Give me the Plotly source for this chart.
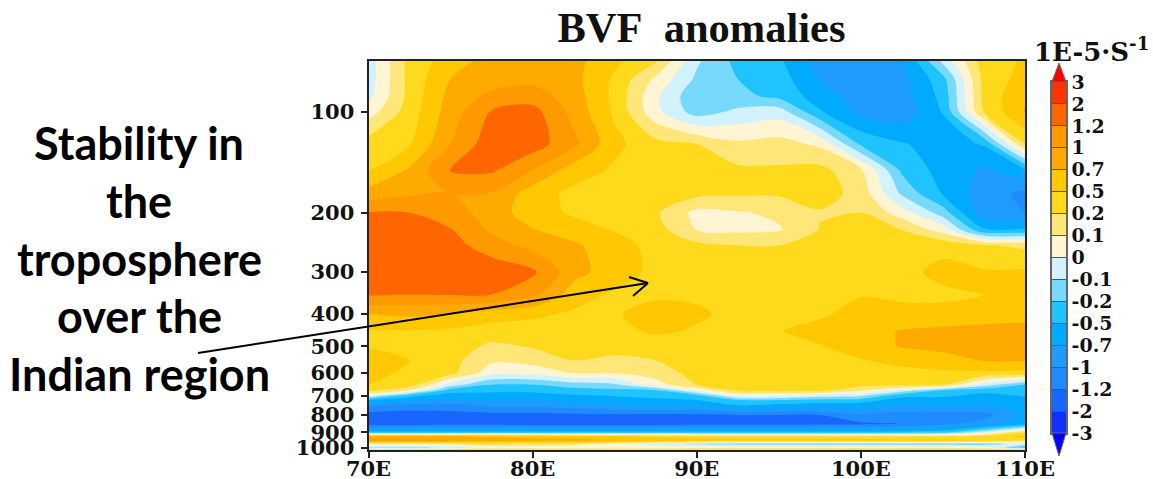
import numpy as np
import plotly.graph_objects as go

longitudes = [70, 72.5, 75, 77.5, 80, 82.5, 85, 87.5, 90, 92.5, 95, 97.5, 100, 102.5, 105, 107.5, 110]
pressures = [70, 80, 90, 100, 125, 150, 175, 200, 225, 250, 300, 350, 400, 450, 500, 550, 600, 650, 675, 700, 725,
             750, 800, 850, 900, 925, 950, 975, 1000, 1016]
levels = [-3, -2, -1.2, -1, -0.7, -0.5, -0.2, -0.1, 0, 0.1, 0.2, 0.5, 0.7, 1, 1.2, 2, 3]
level_labels = ["-3", "-2", "-1.2", "-1", "-0.7", "-0.5", "-0.2", "-0.1", "0", "0.1", "0.2", "0.5", "0.7", "1", "1.2", "2", "3"]
band_colors = ["#0000ff", "#1430ff", "#1966ff", "#1e8cff", "#1e9bff", "#00aaff", "#1ec3ff", "#78d9ff", "#d2f2ff",
               "#fff5d2", "#ffe678", "#ffda1c", "#ffc800", "#ffaa00", "#ff9900", "#ff6600", "#ff3300", "#ff0000"]
x_ticks = [70, 80, 90, 100, 110]
x_labels = ["70E", "80E", "90E", "100E", "110E"]
y_ticks = [100, 200, 300, 400, 500, 600, 700, 800, 900, 1000]
text_lines = ["Stability in", "the", "troposphere", "over the", "Indian region"]

# BVF anomaly per longitude (one list per longitude, values ordered as in `pressures`)
bvf_by_lon = [
 [-.05,-.05,-.03,.05,.35,.5,.8,1.25,1.45,1.6,1.7,1.3,.7,.48,.48,.6,.6,.5,.3,0,-.55,-1.0,-1.6,-1.6,-.4,.7,1.05,.1,-.12,.3],
 [.3,.3,.3,.35,.48,.75,.95,1.2,1.45,1.6,1.7,1.2,.75,.48,.4,.5,.4,.35,.1,-.4,-.65,-1.1,-1.6,-1.6,-.4,.7,1.05,.1,-.12,.3],
 [.6,.7,.8,.85,1.0,1.22,1.0,1.1,1.25,1.5,1.6,1.25,.7,.45,.35,.3,.3,-.05,-.35,-.6,-.78,-1.1,-1.5,-1.5,-.4,.7,1.0,.12,-.08,.3],
 [.8,.85,1.05,1.25,1.7,1.3,.98,.85,.95,1.1,1.7,1.2,.6,.35,.18,.12,.03,-.22,-.42,-.58,-.72,-.95,-1.5,-1.5,-.4,.65,.9,.15,.05,.3],
 [.8,.9,1.1,1.5,1.6,.98,.6,.6,.72,.9,1.35,1.05,.55,.33,.22,.14,.03,-.22,-.42,-.58,-.72,-.95,-1.5,-1.6,-.4,.6,.85,.15,.05,.3],
 [.8,.8,.85,.9,1.05,.6,.42,.45,.6,.75,.8,.6,.45,.3,.28,.2,.1,-.15,-.33,-.52,-.65,-.85,-1.4,-1.6,-.4,.55,.85,.12,.05,.3],
 [.55,.45,.42,.45,.55,.45,.35,.4,.48,.58,.6,.45,.47,.42,.3,.18,.1,-.12,-.27,-.48,-.6,-.75,-1.4,-1.6,-.4,.5,.75,.05,.05,.3],
 [.28,.08,.02,.03,.3,.35,.38,.25,.33,.4,.42,.45,.58,.53,.35,.2,.15,.05,-.2,-.42,-.55,-.68,-1.4,-1.6,-.4,.4,.7,-.05,.05,.3],
 [-.08,-.12,-.18,-.15,.2,.3,.3,.07,.1,.28,.4,.45,.53,.47,.4,.38,.3,.2,.02,-.3,-.52,-.68,-1.35,-1.5,-.4,.3,.65,-.12,.08,.3],
 [-.3,-.2,-.17,-.08,.12,.27,.25,.09,.08,.2,.35,.4,.42,.43,.43,.42,.4,.33,.28,.02,-.3,-.52,-1.25,-1.5,-.4,.25,.6,-.15,.1,.3],
 [-.45,-.35,-.28,-.05,.14,.25,.25,.12,.09,.2,.3,.37,.4,.48,.4,.4,.4,.35,.28,.02,-.3,-.55,-1.25,-1.5,-.4,.25,.6,-.15,.1,.3],
 [-.85,-.72,-.6,-.47,.08,.3,.35,.19,.22,.25,.33,.36,.45,.58,.48,.42,.42,.38,.3,-.05,-.4,-.58,-1.2,-1.35,-.4,.2,.6,-.15,.1,.3],
 [-.9,-.88,-.85,-.78,-.25,.12,.16,.2,.25,.3,.35,.48,.58,.62,.6,.48,.4,.3,.12,-.08,-.4,-.6,-1.05,-1.35,-.4,.2,.6,-.15,.1,.35],
 [-.72,-.8,-.85,-.9,-.47,-.25,-.12,.05,.2,.3,.42,.47,.53,.72,.72,.55,.42,.25,-.03,-.42,-.6,-.75,-1.1,-1.25,-.35,.2,.55,-.15,.1,.35],
 [-.06,-.3,-.4,-.48,-.6,-.58,-.52,-.15,.05,.42,.55,.45,.55,.78,.8,.6,.45,.2,-.2,-.45,-.58,-.68,-1.1,-1.05,-.3,.2,.55,-.15,.1,.35],
 [.35,.3,.28,.22,-.47,-.75,-.85,-.9,-.45,.22,.52,.5,.6,.8,.85,.72,.45,-.05,-.4,-.55,-.62,-.72,-1.08,-.85,-.05,.3,.5,-.15,.05,.35],
 [.52,.58,.68,.72,.2,-.55,-1.05,-1.0,-.45,.18,.53,.56,.6,.85,.85,.72,.4,-.25,-.38,-.48,-.55,-.6,-.65,-.55,.2,.55,.25,-.05,-.3,.3],
]

z_values = np.array(bvf_by_lon).T
band_index = np.interp(z_values, levels, np.arange(len(levels)))

def stepped(colors):
    n = len(colors)
    out = []
    for i, c in enumerate(colors):
        out += [[i / n, c], [(i + 1) / n, c]]
    return out

W, H = 1153, 479
L, R, T, B = 368.5, 1025, 60.5, 450
def px(x): return x / W
def py(y): return (H - y) / H

serif = "DejaVu Serif"
fig = go.Figure(go.Contour(
    x=longitudes, y=pressures, z=band_index,
    zmin=-1, zmax=17, colorscale=stepped(band_colors), showscale=False,
    autocontour=False,
    contours=dict(start=0, end=16, size=1, coloring="fill", showlines=False),
    line=dict(width=0, smoothing=0.9),
    hoverinfo="skip",
))

# colour bar: one cell for each interval between levels, on its own axis
bar_steps = list(range(len(levels)))
fig.add_trace(go.Heatmap(
    x=[0, 1], y=bar_steps, z=[[i] for i in range(len(levels) - 1)],
    zmin=-0.5, zmax=len(levels) - 1.5, colorscale=stepped(band_colors[1:-1]), showscale=False,
    xaxis="x2", yaxis="y2", hoverinfo="skip",
))

for i, line in enumerate(text_lines):
    fig.add_annotation(text=line, x=px(139), y=py(143 + 57.8 * i), xref="paper", yref="paper",
                       showarrow=False, xanchor="center", yanchor="middle",
                       font=dict(family="Lato", size=45, color="black", weight=700))
fig.add_annotation(text="1E-5·S<sup>-1</sup>", x=px(1091), y=py(50), xref="paper", yref="paper",
                   showarrow=False, xanchor="center", yanchor="middle",
                   font=dict(family=serif, size=26, color="#111111", weight=700))

shapes = []
for (x0, y0, x1, y1) in [(198, 353, 648, 283), (629, 277, 648, 283), (633, 296, 648, 283)]:
    shapes.append(dict(type="line", xref="paper", yref="paper", x0=px(x0), y0=py(y0), x1=px(x1), y1=py(y1),
                       line=dict(color="black", width=2)))
shapes.append(dict(type="path", xref="paper", yref="paper",
                   path=f"M {px(1052)} {py(82)} L {px(1059)} {py(63)} L {px(1066)} {py(82)} Z",
                   fillcolor=band_colors[-1], line=dict(color="#666666", width=1)))
shapes.append(dict(type="path", xref="paper", yref="paper",
                   path=f"M {px(1052)} {py(433)} L {px(1059)} {py(456)} L {px(1066)} {py(433)} Z",
                   fillcolor=band_colors[0], line=dict(color="#666666", width=1)))

fig.update_layout(
    width=W, height=H,
    margin=dict(l=0, r=0, t=0, b=0, pad=0, autoexpand=False),
    paper_bgcolor="white", plot_bgcolor="white", showlegend=False,
    title=dict(text="BVF\u00a0\u00a0anomalies", x=701.5 / W, xanchor="center", xref="container",
               y=1 - 27 / H, yanchor="middle", yref="container",
               font=dict(family="Liberation Serif", size=42.5, color="#111111", weight=700)),
    shapes=shapes,
    xaxis=dict(domain=[px(L), px(R)], range=[70, 110], tickmode="array", tickvals=x_ticks, ticktext=x_labels,
               ticks="outside", ticklen=6, tickwidth=2, tickcolor="#222222", anchor="y", ticklabelstandoff=-7,
               showline=True, linewidth=2, linecolor="#222222", mirror=True, showgrid=False, zeroline=False,
               tickfont=dict(family=serif, size=21, color="#111111", weight=700)),
    yaxis=dict(domain=[py(B), py(T)], type="log", range=[np.log10(1016), np.log10(70.5)], tickmode="array",
               tickvals=y_ticks, ticktext=[str(v) for v in y_ticks], anchor="x", ticklabelstandoff=2,
               ticks="outside", ticklen=6, tickwidth=2, tickcolor="#222222",
               showline=True, linewidth=2, linecolor="#222222", mirror=True, showgrid=False, zeroline=False,
               tickfont=dict(family=serif, size=21, color="#111111", weight=700)),
    xaxis2=dict(domain=[px(1052), px(1066)], range=[0, 1], anchor="y2", showticklabels=False, ticks="",
                showline=True, linewidth=1.5, linecolor="#666666", mirror=True, showgrid=False, zeroline=False),
    yaxis2=dict(domain=[py(433), py(82)], range=[0, 16], anchor="x2", side="right",
                tickmode="array", tickvals=bar_steps, ticktext=level_labels,
                ticks="inside", ticklen=14, tickwidth=1, tickcolor="#555555",
                showline=True, linewidth=1.5, linecolor="#666666", mirror=True, showgrid=False, zeroline=False,
                tickfont=dict(family=serif, size=19, color="#111111", weight=700)),
)
fig.write_html("out.html", config=dict(displayModeBar=False),
               post_script="document.body.style.margin='0';document.body.style.overflow='hidden';")
